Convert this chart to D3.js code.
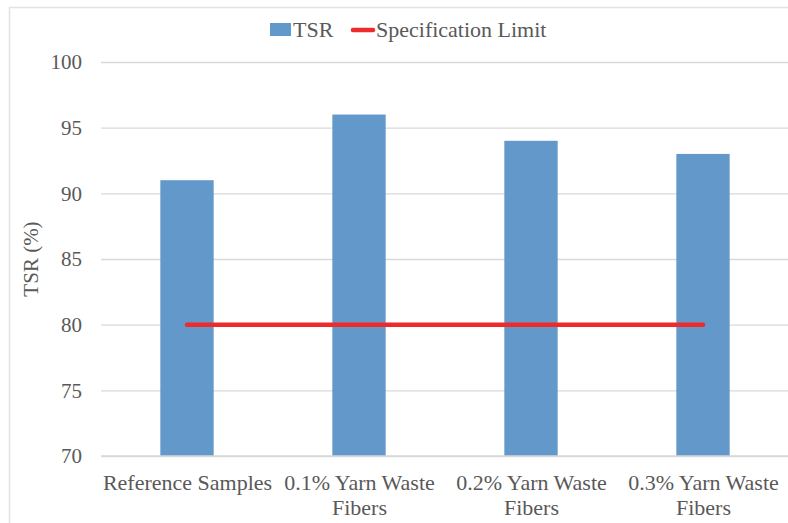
<!DOCTYPE html>
<html>
<head>
<meta charset="utf-8">
<script src="https://cdn.jsdelivr.net/npm/d3@7"></script>
<style>
  body { margin: 0; background: #fff; }
  svg, svg text { font-family: "Liberation Serif", "Times New Roman", serif; }
  svg { display: block; }
  .tick text { fill: #595959; font-size: 21px; }
  .xaxis .tick text { font-size: 22px; }
</style>
</head>
<body>
<div id="chart"></div>
<script>
// Data
const categories = ['Reference Samples', '0.1% Yarn Waste Fibers', '0.2% Yarn Waste Fibers', '0.3% Yarn Waste Fibers']
const tsrValues = [91, 96, 94, 93]
const specLimit = [80, 80, 80, 80]
const yTicks = [70, 75, 80, 85, 90, 95, 100]

const width = 788
const height = 523
const margin = { top: 62, right: -1, bottom: 67, left: 101 }

const svg = d3.select('#chart')
  .append('svg')
  .attr('width', width)
  .attr('height', height)

// chart area frame (only top and left edges are visible)
svg.append('rect')
  .attr('x', 9.5)
  .attr('y', 7.5)
  .attr('width', 900)
  .attr('height', 700)
  .attr('fill', 'none')
  .attr('stroke', '#e3e3e3')
  .attr('stroke-width', 1.5)

// Scales
const x = d3.scaleBand()
  .domain(categories)
  .range([margin.left, width - margin.right])
  .paddingInner(0.69)
  .paddingOuter(0.345)

const xCenter = d3.scalePoint()
  .domain(categories)
  .range([margin.left, width - margin.right])
  .padding(0.5)

const y = d3.scaleLinear()
  .domain([70, 100])
  .range([height - margin.bottom, margin.top])

// Gridlines + y axis labels
const yAxis = svg.append('g')
  .attr('transform', `translate(${margin.left},0)`)
  .call(d3.axisLeft(y)
    .tickValues(yTicks)
    .tickSize(-(width - margin.left - margin.right))
    .tickPadding(19))
  .attr('font-family', null)

yAxis.select('.domain').remove()
yAxis.selectAll('.tick line')
  .attr('stroke', '#d9d9d9')
  .attr('stroke-width', 1.3)

// Bars
svg.append('g')
  .selectAll('rect')
  .data(tsrValues)
  .enter().append('rect')
  .attr('x', (d, i) => x(categories[i]))
  .attr('y', (d) => y(d))
  .attr('width', x.bandwidth())
  .attr('height', (d) => y(70) - y(d))
  .attr('fill', '#6298ca')

// Specification limit line
const line = d3.line()
  .x((d, i) => xCenter(categories[i]))
  .y((d) => y(d))

svg.append('path')
  .datum(specLimit)
  .attr('d', line)
  .attr('fill', 'none')
  .attr('stroke', '#ee2b2b')
  .attr('stroke-width', 4.5)
  .attr('stroke-linecap', 'round')

// x axis labels
const xAxis = svg.append('g')
  .attr('class', 'xaxis')
  .attr('transform', `translate(0,${height - margin.bottom})`)
  .call(d3.axisBottom(xCenter).tickSize(0).tickPadding(18))
  .attr('font-family', null)

xAxis.select('.domain').remove()
xAxis.selectAll('.tick text').call(wrap, 172)

function wrap (text, w) {
  text.each(function () {
    const t = d3.select(this)
    const words = t.text().split(/\s+/)
    const yy = t.attr('y')
    const dy = parseFloat(t.attr('dy'))
    t.text(null)
    let lineWords = []
    let lineNo = 0
    let tspan = t.append('tspan').attr('x', 0).attr('y', yy).attr('dy', dy + 'em')
    words.forEach((word) => {
      lineWords.push(word)
      tspan.text(lineWords.join(' '))
      if (tspan.node().getComputedTextLength() > w && lineWords.length > 1) {
        lineWords.pop()
        tspan.text(lineWords.join(' '))
        lineWords = [word]
        lineNo++
        tspan = t.append('tspan').attr('x', 0).attr('y', yy)
          .attr('dy', (dy + lineNo * 1.15) + 'em')
          .text(word)
      }
    })
  })
}

// baseline
svg.append('line')
  .attr('x1', margin.left)
  .attr('x2', width - margin.right)
  .attr('y1', y(70))
  .attr('y2', y(70))
  .attr('stroke', '#d9d9d9')
  .attr('stroke-width', 1.3)

// Y axis title
svg.append('text')
  .text('TSR (%)')
  .attr('transform', `translate(38,${(y(70) + y(100)) / 2}) rotate(-90)`)
  .attr('text-anchor', 'middle')
  .attr('fill', '#595959')
  .attr('font-size', 21)

// Legend
const legend = svg.append('g')

legend.append('rect')
  .attr('x', 270)
  .attr('y', 23)
  .attr('width', 21)
  .attr('height', 13)
  .attr('fill', '#6298ca')

legend.append('text')
  .text('TSR')
  .attr('x', 293)
  .attr('y', 37)
  .attr('fill', '#595959')
  .attr('font-size', 22)

legend.append('line')
  .attr('x1', 353)
  .attr('x2', 373)
  .attr('y1', 30)
  .attr('y2', 30)
  .attr('stroke', '#ee2b2b')
  .attr('stroke-width', 4.5)
  .attr('stroke-linecap', 'round')

legend.append('text')
  .text('Specification Limit')
  .attr('x', 376)
  .attr('y', 37)
  .attr('fill', '#595959')
  .attr('font-size', 22)
</script>
</body>
</html>
